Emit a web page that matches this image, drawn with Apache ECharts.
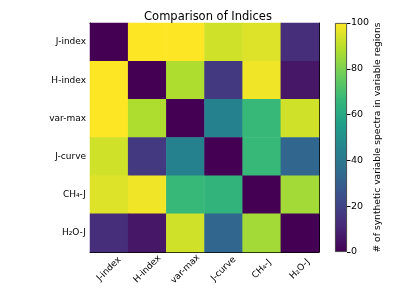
<!DOCTYPE html>
<html><head><meta charset="utf-8">
<script src="https://cdn.jsdelivr.net/npm/echarts@6.0.0/dist/echarts.min.js"></script>
<style>html,body{margin:0;padding:0;background:#fff}#c{width:399px;height:299px}</style>
</head><body><div id="c"></div>
<script>
const categories = ['J-index', 'H-index', 'var-max', 'J-curve', 'CH₄-J', 'H₂O-J'];
// rows listed top to bottom, columns left to right
const rowJindex = [0, 100, 100, 93, 95, 13];
const rowHindex = [100, 0, 88, 17, 98, 6];
const rowVarmax = [100, 88, 0, 44, 67, 93];
const rowJcurve = [93, 17, 44, 0, 67, 33];
const rowCH4J   = [95, 98, 67, 65, 0, 86];
const rowH2OJ   = [13, 6, 93, 33, 86, 0];
const rows = [rowJindex, rowHindex, rowVarmax, rowJcurve, rowCH4J, rowH2OJ];
const colorbarMax = [100];
const viridis = ['#440154','#482878','#3e4989','#31688e','#26828e','#1f9e89','#35b779','#6ece58','#b5de2b','#fde725'];

const yCats = categories.slice().reverse();
const data = [];
rows.forEach((r, i) => r.forEach((v, j) => data.push([j, categories.length - 1 - i, v])));

const font = 'DejaVu Sans';
const gradStops = viridis.map((c, i) => ({ offset: i / (viridis.length - 1), color: c }));
const chart = echarts.init(document.getElementById('c'));
chart.setOption({
  animation: false,
  textStyle: { fontFamily: font },
  title: { text: 'Comparison of Indices', left: 203, top: 6, textAlign: 'center',
    textStyle: { fontFamily: font, fontSize: 11.5, fontWeight: 'normal', color: '#000' } },
  grid: [
    { left: 90, top: 23, width: 229, height: 229, outerBoundsMode: 'none' },
    { left: 335, top: 23, width: 12, height: 229, outerBoundsMode: 'none' }
  ],
  xAxis: [
    { type: 'category', data: categories, gridIndex: 0, position: 'bottom',
      axisLine: { lineStyle: { color: '#000', width: 1 } },
      axisTick: { alignWithLabel: true, inside: true, length: 3, lineStyle: { color: '#000' } },
      axisLabel: { rotate: 45, align: 'center', verticalAlign: 'middle', color: '#000',
        fontSize: 9, margin: 17, fontFamily: font },
      splitLine: { show: false } },
    { type: 'category', data: categories, gridIndex: 0, position: 'top',
      axisLine: { lineStyle: { color: '#000', width: 1 } }, axisTick: { show: false }, axisLabel: { show: false } },
    { type: 'category', data: [''], gridIndex: 1, axisLine: { show: false },
      axisTick: { show: false }, axisLabel: { show: false } }
  ],
  yAxis: [
    { type: 'category', data: yCats, gridIndex: 0, position: 'left',
      axisLine: { lineStyle: { color: '#000', width: 1 } },
      axisTick: { alignWithLabel: true, length: 3.5, lineStyle: { color: '#000' } },
      axisLabel: { color: '#000', fontSize: 9, margin: 4, fontFamily: font },
      splitLine: { show: false } },
    { type: 'category', data: yCats, gridIndex: 0, position: 'right',
      axisLine: { lineStyle: { color: '#000', width: 1 } }, axisTick: { show: false }, axisLabel: { show: false } },
    { type: 'value', gridIndex: 1, min: 0, max: 100, interval: 20, position: 'right',
      axisLine: { show: false },
      axisTick: { show: true, length: 3.5, lineStyle: { color: '#000' } },
      axisLabel: { show: true, color: '#000', fontSize: 9.5, margin: 4, fontFamily: font },
      splitLine: { show: false },
      name: '# of synthetic variable spectra in variable regions', nameLocation: 'middle',
      nameRotate: 90, nameGap: 26, nameMoveOverlap: false,
      nameTextStyle: { fontSize: 9.2, color: '#000', fontFamily: font } }
  ],
  visualMap: {
    type: 'continuous', min: 0, max: 100, seriesIndex: 0, show: false,
    inRange: { color: viridis }
  },
  series: [
    { type: 'heatmap', xAxisIndex: 0, yAxisIndex: 0, data: data, emphasis: { disabled: true } },
    { type: 'bar', xAxisIndex: 2, yAxisIndex: 2, data: colorbarMax, barWidth: '100%', silent: true,
      itemStyle: { borderColor: '#333', borderWidth: 0.8,
        color: new echarts.graphic.LinearGradient(0, 1, 0, 0, gradStops) } }
  ]
});
</script></body></html>
